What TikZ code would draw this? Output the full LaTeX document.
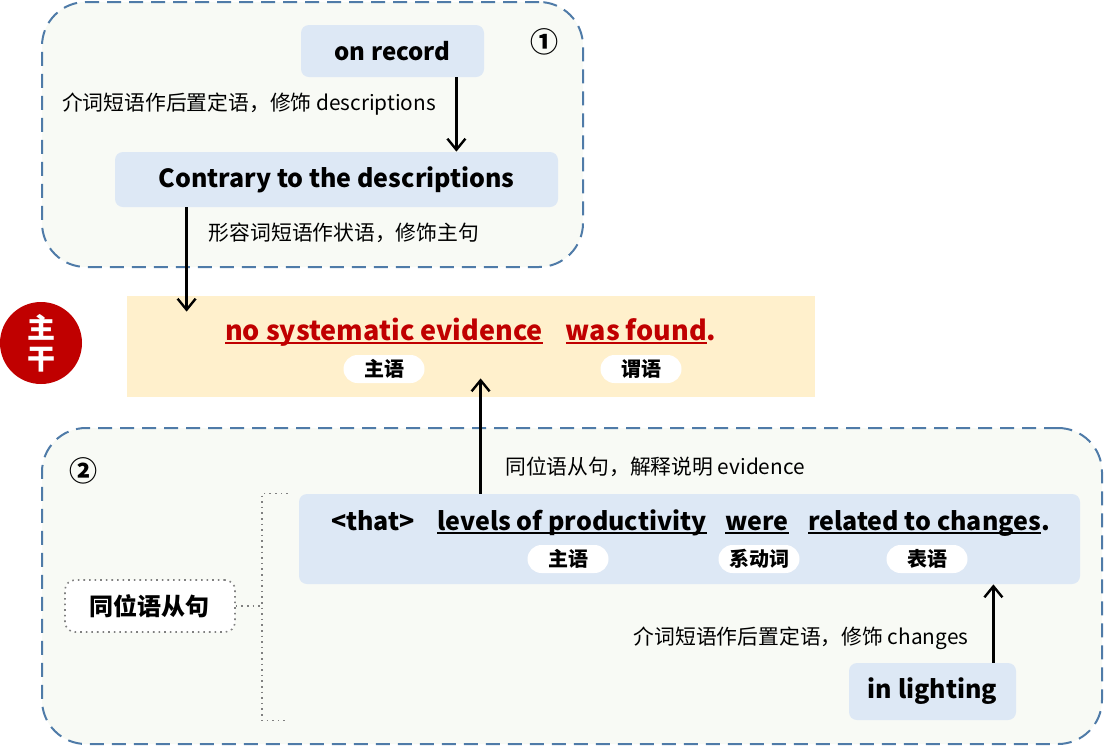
\documentclass[tikz,border=0pt]{standalone}
\usepackage{fontspec}
\setmainfont{Noto Sans CJK SC}
\usetikzlibrary{arrows.meta}

\definecolor{frameblue}{HTML}{4F7BA8}
\definecolor{groupfill}{HTML}{F8FAF5}
\definecolor{wordfill}{HTML}{DDE8F5}
\definecolor{mainfill}{HTML}{FFF0CC}
\definecolor{mainred}{HTML}{C00000}

% underline close to the baseline
\newcommand{\uword}[1]{\setbox0\hbox{#1}\rlap{\rule[-1.8pt]{\wd0}{0.6pt}}\box0}

\begin{document}
\begin{tikzpicture}[
    x=0.5pt, y=-0.5pt,
    % Group frames
    group-box/.style={draw=frameblue, line width=1pt, dash pattern=on 7pt off 4pt, fill=groupfill, rounded corners=22pt, inner sep=0pt},
    % Word boxes
    word-box/.style={fill=wordfill, rounded corners=4pt, font=\fontsize{12}{14}\selectfont\bfseries, inner sep=0pt},
    main-box/.style={fill=mainfill, inner sep=0pt},
    phrase/.style={font=\fontsize{12.5}{15}\selectfont\bfseries, inner sep=0pt, anchor=base},
    red-phrase/.style={phrase, text=mainred, font=\fontsize{13.5}{16}\selectfont\bfseries},
    role-tag/.style={fill=white, rounded corners=7pt, minimum width=40.5pt, minimum height=14pt, inner sep=0pt, font=\fontsize{10}{11}\selectfont\bfseries},
    note/.style={font=\fontsize{10.4}{12}\selectfont, inner sep=0pt},
    % Connectors
    link/.style={-{Straight Barb[length=5.5pt, width=9pt]}, line width=1.2pt, black},
    bracket/.style={draw=gray, line width=0.8pt, dotted},
]
\useasboundingbox (0,0) rectangle (1104,746);

% === GROUP 1 (top) ===
\node[group-box, minimum width=270.5pt, minimum height=132.5pt] (group1) at (312.5,134.5) {};
\node[font=\fontsize{14}{16}\selectfont\bfseries] (num1) at (544,42) {①};
\node[word-box, minimum width=91.5pt, minimum height=26pt] (onrec) at (392.5,51) {on record};
\node[word-box, minimum width=221.5pt, minimum height=27.5pt, font=\fontsize{12.5}{15}\selectfont\bfseries] (contrary) at (336.5,179.5) {Contrary to the descriptions};
\node[note] (note1) at (249,104) {介词短语作后置定语，修饰 descriptions};
\node[note] (note2) at (344,233) {形容词短语作状语，修饰主句};

\draw[link] ([xshift=-14pt]onrec.south east) coordinate (a1) -- (a1 |- contrary.north);

% === MAIN CLAUSE ===
\node[main-box, minimum width=344pt, minimum height=50.5pt] (main) at (471,346.5) {};
\node[circle, fill=mainred, minimum size=41pt, inner sep=0pt, text=white, align=center, font=\fontsize{14}{15.5}\selectfont\bfseries] (trunk) at (41,343) {主\\干};
\node[red-phrase] (subj) at (384,340) {\uword{no systematic evidence}};
\node[red-phrase] (pred) at (641,340) {\uword{was found}.};
\node[role-tag] (subjtag) at (384,369) {主语};
\node[role-tag] (predtag) at (641,369) {谓语};

\draw[link] ([xshift=36pt]contrary.south west) coordinate (a2) -- ([yshift=-8pt]a2 |- main.north);

% === GROUP 2 (bottom) ===
\node[group-box, minimum width=530pt, minimum height=158pt] (group2) at (572,586) {};
\node[font=\fontsize{14}{16}\selectfont\bfseries] (num2) at (83,471) {②};
\node[word-box, minimum width=390.5pt, minimum height=45pt] (clause) at (689.5,539) {};
\node[phrase] (that) at (373,530) {<that>};
\node[phrase] (levels) at (572,530) {\uword{levels of productivity}};
\node[phrase] (were) at (757,530) {\uword{were}};
\node[phrase] (related) at (929,530) {\uword{related to changes}.};
\node[role-tag] (levelstag) at (568,559) {主语};
\node[role-tag] (weretag) at (759,559) {系动词};
\node[role-tag] (relatedtag) at (927,559) {表语};
\node[word-box, minimum width=83.5pt, minimum height=28.5pt, font=\fontsize{12.5}{15}\selectfont\bfseries] (lighting) at (932.5,691.5) {in lighting};
\node[note] (note3) at (655,467) {同位语从句，解释说明 evidence};
\node[note] (note4) at (801,638) {介词短语作后置定语，修饰 changes};
\node[draw=gray, dotted, line width=0.8pt, fill=white, rounded corners=5pt, minimum width=85pt, minimum height=26pt, inner sep=0pt, font=\fontsize{12}{14}\selectfont\bfseries] (appos) at (150,606) {同位语从句};

\draw[link] ([xshift=91pt]clause.north west) coordinate (a3) -- ([yshift=9.5pt]a3 |- main.south);
\draw[link] ([xshift=-11.5pt]lighting.north east) coordinate (a4) -- (a4 |- clause.south);

% Bracket
\draw[bracket] (appos.east) -- ++(13pt,0) coordinate (bk);
\draw[bracket] ([xshift=13pt]bk |- clause.north) -- (bk |- clause.north) -- (bk |- lighting.south) -- ([xshift=13pt]bk |- lighting.south);

\end{tikzpicture}
\end{document}
